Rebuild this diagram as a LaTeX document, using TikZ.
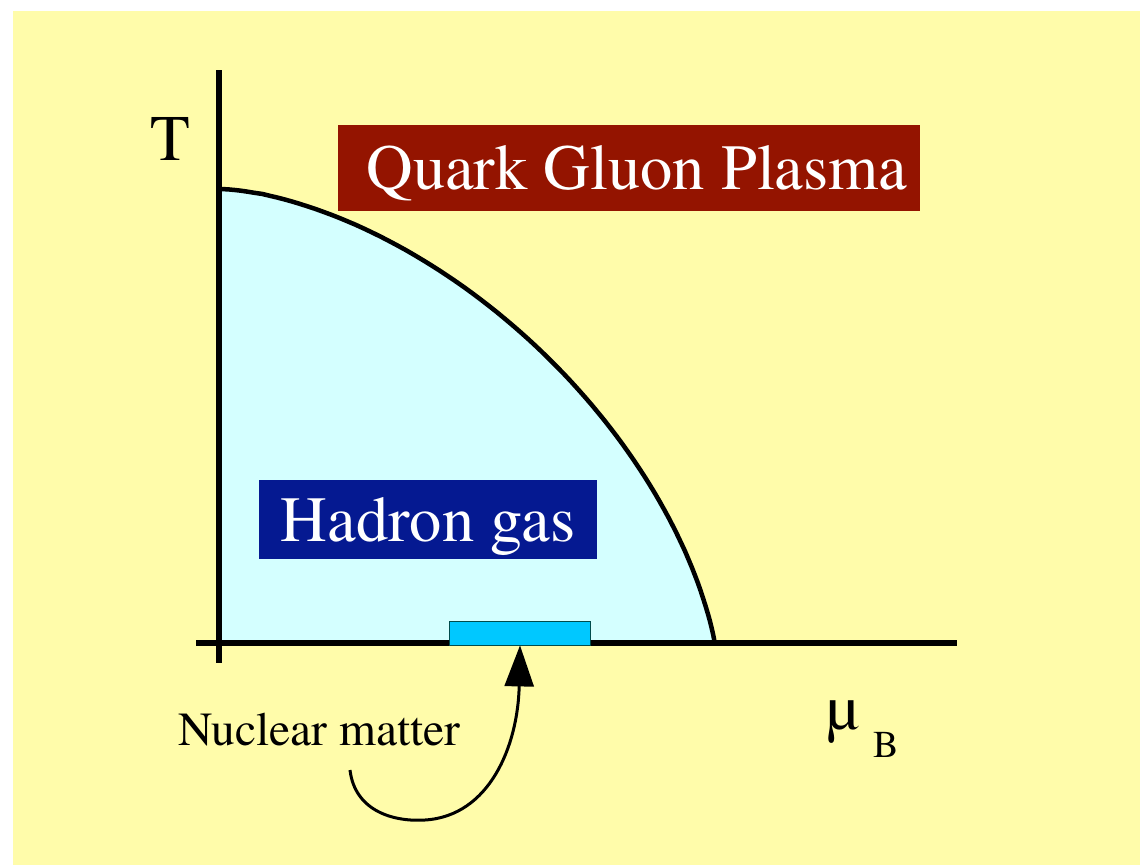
\documentclass[tikz,border=0pt]{standalone}
\usepackage{fontspec}
\setmainfont{TeX Gyre Termes}
\usetikzlibrary{arrows.meta}
\definecolor{paper}{RGB}{255,252,170}
\definecolor{hadronfill}{RGB}{212,255,255}
\definecolor{qgpred}{RGB}{148,20,0}
\definecolor{hgblue}{RGB}{5,25,145}
\definecolor{nmcyan}{RGB}{0,200,255}

\begin{document}
\begin{tikzpicture}[
  x=1pt,y=-1pt,
  >=Latex,
  axis/.style={line width=6pt},
  phasebox/.style={text=white,inner sep=0pt,text height=43pt,text depth=0pt,
    font=\fontsize{64.5}{66}\selectfont},
  lab/.style={inner sep=0pt,anchor=base}
]
\useasboundingbox (0,0) rectangle (1140,865);
\fill[paper] (13,11) rectangle (1140,865);
\filldraw[fill=hadronfill,line width=4.5pt,line join=round] (219,643) -- (715,643)
  -- plot[domain=6.8:89.9,samples=80,variable=\t]
     ({219+500*cos(\t)^1.212},{680-491*sin(\t)^1.212})
  -- (219,189) -- cycle;
\draw[axis] (219,70) -- (219,663);
\draw[axis] (196,643) -- (957,643);
\node[phasebox,fill=qgpred,minimum width=582pt,minimum height=86pt] (qgp) at (629,168) {\hspace*{16pt}Quark Gluon Plasma};
\node[phasebox,fill=hgblue,minimum width=338pt,minimum height=79pt] (hg) at (428,519.5) {Hadron gas};
\node[draw=teal!60!black,fill=nmcyan,line width=0.8pt,inner sep=0pt,
  minimum width=141pt,minimum height=24pt] (nm) at (520,633) {};
\node[lab,font=\fontsize{65}{66}\selectfont] (tlab) at (170,160) {T};
\node[lab,anchor=base west,font=\fontsize{47.5}{48}\selectfont] (nmlab) at (178,745) {Nuclear matter};
\node[lab,anchor=base west,font=\fontsize{64}{65}\selectfont] (mu) at (826,729) {µ};
\node[lab,anchor=base west,font=\fontsize{38}{39}\selectfont] (sub) at (873,757) {B};
\coordinate (tail) at (350,770);
\draw[line width=3pt,-{Triangle[length=41pt,width=29pt]}] (tail)
  .. controls (355,812) and (395,822) .. (425,820)
  .. controls (490,816) and (518,745) .. (nm.south);
\end{tikzpicture}
\end{document}
